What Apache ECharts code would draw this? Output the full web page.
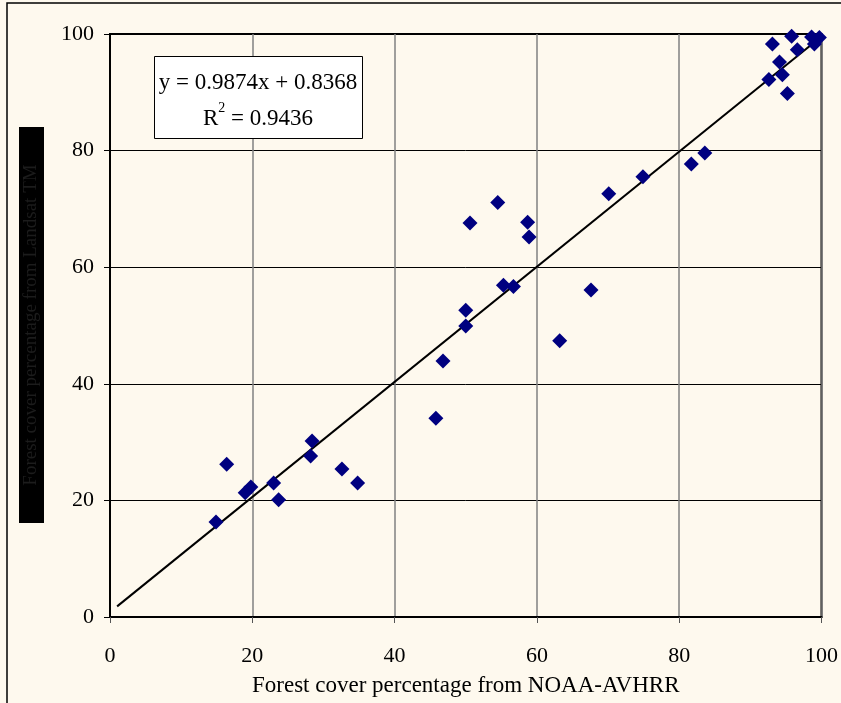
<!DOCTYPE html>
<html>
<head>
<meta charset="utf-8">
<script src="https://cdn.jsdelivr.net/npm/echarts@6/dist/echarts.min.js"></script>
<style>
html,body{margin:0;padding:0;background:#FEF9EE;}
#chart{width:841px;height:703px;}
</style>
</head>
<body>
<div id="chart"></div>
<script>
// Forest cover from NOAA-AVHRR (x) vs reference (y)
const avhrrX = [14.9, 16.4, 19.0, 19.8, 23.0, 23.7, 28.4, 28.2, 32.6, 34.8,
  45.8, 46.8, 50.0, 50.0, 50.6, 54.5, 55.3, 56.7, 58.7, 58.9,
  63.2, 67.6, 70.1, 74.9, 81.7, 83.6, 92.6, 93.1, 94.1, 94.5,
  95.2, 95.8, 96.6, 98.6, 99.0, 99.7];
const refY = [16.3, 26.2, 21.3, 22.3, 23.0, 20.1, 30.2, 27.6, 25.4, 23.0,
  34.1, 43.9, 49.9, 52.6, 67.6, 71.1, 56.9, 56.7, 67.7, 65.2,
  47.4, 56.1, 72.6, 75.5, 77.7, 79.6, 92.2, 98.3, 95.2, 93.0,
  89.8, 99.6, 97.3, 99.5, 98.3, 99.4];
const trendX = [1, 100];
const trendY = [1.82, 99.58];
const xTicks = [0, 20, 40, 60, 80, 100];
const yTicks = [0, 20, 40, 60, 80, 100];
const eqLine1 = 'y = 0.9874x + 0.8368';
const eqR2 = '0.9436';
const xTitle = 'Forest cover percentage from NOAA-AVHRR';
const yTitle = 'Forest cover percentage from Landsat TM';

const chart = echarts.init(document.getElementById('chart'));
const serif = 'Liberation Serif, Times New Roman, serif';
chart.setOption({
  backgroundColor: '#FEF9EE',
  animation: false,
  grid: {left: 110, right: 19, top: 34, bottom: 86, show: true,
    borderColor: '#000', borderWidth: 2, backgroundColor: 'transparent'},
  xAxis: {
    type: 'value', min: xTicks[0], max: xTicks[xTicks.length-1], interval: 20,
    axisLine: {show: true, lineStyle: {color: '#000', width: 2}},
    axisTick: {show: true, length: 6, lineStyle: {color: '#555', width: 1}},
    axisLabel: {color: '#000', fontFamily: serif, fontSize: 22, margin: 28},
    splitLine: {show: true, lineStyle: {color: '#808080', width: 1.5}},
    name: xTitle, nameLocation: 'middle', nameGap: 57,
    nameTextStyle: {color: '#000', fontFamily: serif, fontSize: 23}
  },
  yAxis: {
    type: 'value', min: yTicks[0], max: yTicks[yTicks.length-1], interval: 20,
    axisLine: {show: true, lineStyle: {color: '#000', width: 2}},
    axisTick: {show: true, length: 6, lineStyle: {color: '#000', width: 1}},
    axisLabel: {color: '#000', fontFamily: serif, fontSize: 22, margin: 16},
    splitLine: {show: true, lineStyle: {color: '#000', width: 1}}
  },
  graphic: [
    {type: 'rect', shape: {x: 7, y: 3, width: 900, height: 800},
      style: {fill: 'none', stroke: '#000', lineWidth: 1.5}, silent: true, z: 0},
    {type: 'rect', shape: {x: 19, y: 127, width: 25, height: 396},
      style: {fill: '#000'}, z: 10},
    {type: 'text', x: 31.5, y: 325, rotation: Math.PI/2, z: 11,
      style: {text: yTitle, fill: '#1c1c1c', font: '19px ' + serif,
        textAlign: 'center', textVerticalAlign: 'middle'}},
    {type: 'rect', shape: {x: 154.5, y: 56.5, width: 208, height: 82},
      style: {fill: '#fff', stroke: '#000', lineWidth: 1}, z: 10},
    {type: 'text', x: 258, y: 101, z: 11,
      style: {
        text: eqLine1 + '\n{r|R}{sup|2}{r| = ' + eqR2 + '}',
        fill: '#000', font: '23px ' + serif, textAlign: 'center',
        textVerticalAlign: 'middle', lineHeight: 36,
        rich: {
          r: {fontSize: 23, fontFamily: serif, fill: '#000', lineHeight: 36},
          sup: {fontSize: 14, fontFamily: serif, fill: '#000', verticalAlign: 'top', lineHeight: 36, padding: [0, 0, 14, 0]}
        }
      }}
  ],
  series: [
    {type: 'line', data: trendX.map((x, i) => [x, trendY[i]]), symbol: 'none',
      lineStyle: {color: '#000', width: 2}, z: 3},
    {type: 'scatter', data: avhrrX.map((x, i) => [x, refY[i]]), symbol: 'diamond',
      symbolSize: 15, itemStyle: {color: '#000080', opacity: 1}, z: 4}
  ]
});
</script>
</body>
</html>
